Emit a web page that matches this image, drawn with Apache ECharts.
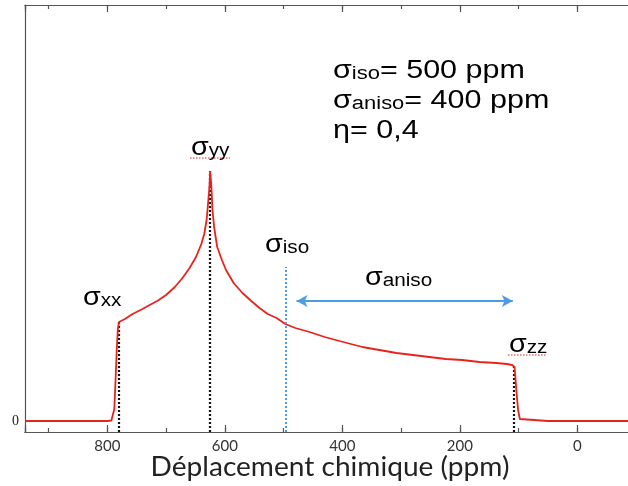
<!DOCTYPE html>
<html>
<head>
<meta charset="utf-8">
<script src="https://cdn.jsdelivr.net/npm/echarts@6/dist/echarts.min.js"></script>
<style>html,body{margin:0;padding:0;background:#fff;}#c{width:628px;height:486px;}</style>
</head>
<body>
<div id="c"></div>
<script>
// Chemical shift (ppm) and intensity (arbitrary units)
const ppm = [940, 850, 800, 793, 790, 788, 786, 784, 782, 780, 770, 757, 740, 728, 715, 700, 685, 672, 660, 649, 640, 635, 631, 628, 626, 625, 623, 621, 618, 613, 605, 598, 585, 570, 555, 541, 527, 512, 497, 480, 456, 430, 405, 366, 337, 308, 280, 252, 224, 196, 167, 138, 120, 111, 107, 104, 101, 98, 95, 50, 0, -100, -200];
const intensity = [0, 0, 0, 0.5, 1.5, 12, 40, 70, 92, 99, 102, 107, 112, 116, 120, 126, 134, 143, 153, 164, 177, 187, 201, 221, 236, 250, 236, 211, 193, 174, 161, 151, 138, 128, 120, 113, 107, 103, 97, 93, 89, 84, 80, 74, 71, 68, 66, 64, 62, 61, 59, 58, 57, 56, 54, 31, 11, 2, 0, 0, 0, 0, 0];

// Principal tensor components: position (ppm) and curve height where the dotted guide stops
const tensorNames = ['xx', 'yy', 'zz'];
const tensorPpm = [780, 625, 109];
const tensorTop = [99, 250, 55];

// Isotropic guide and anisotropy arrow
const isoPpm = 497;
const isoTop = 154;
const anisoFrom = 478;
const anisoTo = 110;
const anisoLevel = 120;

const xMin = -200, xMax = 940, yMin = -11, yMax = 416;

const chart = echarts.init(document.getElementById('c'), null, {renderer: 'canvas'});

const curve = ppm.map((p, i) => [p, intensity[i]]);

const blackGuides = tensorPpm.map((p, i) => [{coord: [p, yMin]}, {coord: [p, tensorTop[i]]}]);

function baseX(extra) {
  return Object.assign({
    type: 'value', min: xMin, max: xMax, inverse: true,
    axisLine: {show: true, onZero: false, lineStyle: {color: '#555', width: 1.2}},
    splitLine: {show: false},
    axisLabel: {show: false}
  }, extra);
}

const option = {
  animation: false,
  backgroundColor: '#fff',
  grid: {left: 25, top: 5, width: 670, height: 427, containLabel: false, outerBoundsMode: 'none'},
  xAxis: [
    baseX({position: 'bottom', interval: 200,
      axisTick: {show: true, inside: true, length: 7, lineStyle: {color: '#555', width: 1.2}},
      axisLabel: {show: true, margin: 7, color: '#333', fontFamily: 'Lato', fontSize: 15,
        formatter: v => (v % 200 === 0 && v >= 0) ? String(v) : ''}
    }),
    baseX({position: 'bottom', interval: 100,
      axisTick: {show: true, inside: true, length: 4, lineStyle: {color: '#555', width: 1.2}}}),
    baseX({position: 'top', interval: 200,
      axisTick: {show: true, inside: true, length: 7, lineStyle: {color: '#555', width: 1.2}}}),
    baseX({position: 'top', interval: 100,
      axisTick: {show: true, inside: true, length: 4, lineStyle: {color: '#555', width: 1.2}}})
  ],
  yAxis: {
    type: 'value', min: yMin, max: yMax,
    axisLine: {show: true, onZero: false, lineStyle: {color: '#555', width: 1.2}},
    axisTick: {show: false},
    splitLine: {show: false},
    axisLabel: {show: true, margin: 6, color: '#222', fontFamily: 'Liberation Serif', fontSize: 14,
      customValues: [0], formatter: v => (v === 0 ? '0' : '')}
  },
  series: [
    {
      type: 'line', xAxisIndex: 0, data: curve, showSymbol: false, symbol: 'none',
      lineStyle: {color: '#e8231c', width: 1.8}, z: 3,
      markLine: {
        silent: true, symbol: ['none', 'none'], label: {show: false},
        lineStyle: {color: '#111', type: [2, 2], width: 2.2},
        data: blackGuides, z: 2
      }
    },
    {
      type: 'line', xAxisIndex: 0, data: [],
      markLine: {
        silent: true, symbol: ['none', 'none'], label: {show: false},
        lineStyle: {color: '#4b9ce6', type: [2, 2], width: 2},
        data: [[{coord: [isoPpm, yMin]}, {coord: [isoPpm, isoTop]}]]
      }
    },
    {
      type: 'line', xAxisIndex: 0, data: [],
      markLine: {
        silent: true, symbol: ['arrow', 'arrow'], symbolSize: [9, 11], label: {show: false},
        lineStyle: {color: '#4b9ce6', type: 'solid', width: 2},
        data: [[{coord: [anisoFrom, anisoLevel]}, {coord: [anisoTo, anisoLevel]}]]
      }
    }
  ],
  graphic: []
};

const sigmaRich = (color, big, small) => ({
  s: {fontFamily: 'Liberation Sans', fontSize: big, color: color, verticalAlign: 'bottom'},
  b: {fontFamily: 'Liberation Sans', fontSize: small, color: color, verticalAlign: 'bottom', lineHeight: small - 2},
  n: {fontFamily: 'Liberation Sans', fontSize: big, color: color, verticalAlign: 'bottom'}
});

function label(x, y, text, color, big, small, sx) {
  return {
    type: 'text', x: x, y: y, scaleX: sx || 1.15, z: 10,
    style: {text: text, rich: sigmaRich(color, big, small), verticalAlign: 'middle', align: 'left'}
  };
}

const info = ['{s|σ}{b|iso}{n|= 500 ppm}', '{s|σ}{b|aniso}{n|= 400 ppm}', '{n|η= 0,4}'];
const g = [];
info.forEach((t, i) => g.push(label(333, 71 + i * 30, t, '#222', 25, 18, 1.22)));
g.push(label(83, 298, '{s|σ}{b|xx}', '#222', 25, 18, 1.15));
g.push(label(191, 148, '{s|σ}{b|yy}', '#222', 25, 18, 1.15));
g.push(label(509, 345, '{s|σ}{b|zz}', '#222', 25, 18, 1.15));
g.push(label(265, 245, '{s|σ}{b|iso}', '#4b9ce6', 25, 18, 1.15));
g.push(label(365, 278, '{s|σ}{b|aniso}', '#4b9ce6', 25, 18, 1.15));
// red dotted underline marks under σyy and σzz
g.push({type: 'line', z: 9, shape: {x1: 190, y1: 158, x2: 230, y2: 158}, style: {stroke: '#e3221c', lineWidth: 1, lineDash: [1.5, 1.5]}});
g.push({type: 'line', z: 9, shape: {x1: 508, y1: 355, x2: 546, y2: 355}, style: {stroke: '#e3221c', lineWidth: 1, lineDash: [1.5, 1.5]}});
// axis title
g.push({type: 'text', x: 330, y: 467, z: 10, scaleX: 1.04, originX: 0, style: {text: 'Déplacement chimique (ppm)', fontFamily: 'Lato', fontSize: 27, fill: '#222', align: 'center', verticalAlign: 'middle'}});
option.graphic = g;

chart.setOption(option);
</script>
</body>
</html>
